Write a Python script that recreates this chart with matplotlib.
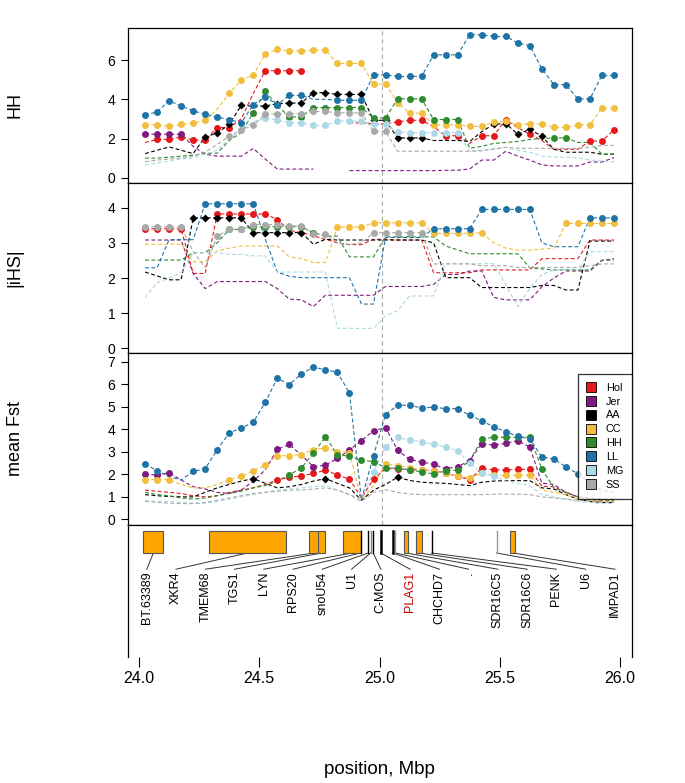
import numpy as np
import matplotlib
matplotlib.use("Agg")
import matplotlib.pyplot as plt
from matplotlib.lines import Line2D
from matplotlib.patches import Rectangle

plt.rcParams['font.family'] = ['Liberation Sans', 'DejaVu Sans']

nan = np.nan
positions = [24.025, 24.075, 24.125, 24.175, 24.225, 24.275, 24.325, 24.375, 24.425, 24.475,
             24.525, 24.575, 24.625, 24.675, 24.725, 24.775, 24.825, 24.875, 24.925, 24.975,
             25.025, 25.075, 25.125, 25.175, 25.225, 25.275, 25.325, 25.375, 25.425, 25.475,
             25.525, 25.575, 25.625, 25.675, 25.725, 25.775, 25.825, 25.875, 25.925, 25.975]

breeds = ["Hol", "Jer", "AA", "CC", "HH", "LL", "MG", "SS"]
colors = {"Hol": "#E3191C", "Jer": "#7E1A80", "AA": "#000000", "CC": "#F2BE3E",
          "HH": "#2E8B30", "LL": "#1F73A6", "MG": "#ADD8E6", "SS": "#A9A9A9"}

def rng(*pairs):
    out = []
    for a, b in pairs:
        out += list(range(a, b + 1))
    return out

# ---------------- HH panel ----------------
hh = {
 "Hol": [1.8, 1.95, 1.95, 2.08, 1.92, 1.92, 2.56, 2.56, 3.0, 4.3, 5.46, 5.46, 5.46, 5.46, nan, nan, nan, 2.8, 2.8, 2.75,
         2.75, 2.85, 2.93, 2.93, 2.6, 2.14, 2.14, 1.75, 2.14, 2.14, 2.97, 2.55, 2.22, 1.9, 1.45, 1.45, 1.45, 1.87, 1.87, 2.45],
 "Jer": [2.22, 2.22, 2.22, 2.22, 1.6, 1.2, 1.1, 1.1, 1.1, 1.49, 0.95, 0.44, 0.44, 0.44, 0.44, nan, nan, 0.36, 0.36, 0.36,
         0.36, 0.36, 0.36, 0.36, 0.36, 0.38, 0.38, 0.45, 0.9, 0.9, 1.35, 1.1, 0.9, 0.65, 0.6, 0.6, 0.6, 0.8, 0.8, 1.03],
 "AA":  [1.23, 1.40, 1.57, 1.40, 1.23, 2.08, 2.28, 2.72, 3.69, 3.65, 3.66, 3.78, 3.81, 3.81, 4.34, 4.34, 4.25, 4.25, 4.25, 2.93,
         2.93, 2.03, 2.03, 2.03, 1.9, 1.9, 1.9, 1.85, 2.35, 2.73, 2.76, 2.22, 2.47, 2.12, 1.45, 1.3, 1.3, 1.3, 1.2, 1.2],
 "CC":  [2.70, 2.70, 2.62, 2.72, 2.80, 2.92, 3.5, 4.31, 4.98, 5.25, 6.30, 6.55, 6.47, 6.47, 6.52, 6.52, 5.83, 5.83, 5.83, 4.78,
         4.78, 3.82, 3.29, 3.29, 2.70, 2.70, 2.70, 2.62, 2.62, 2.84, 2.87, 2.70, 2.75, 2.75, 2.57, 2.57, 2.70, 2.70, 3.55, 3.55],
 "HH":  [1.0, 1.0, 1.05, 1.1, 1.15, 1.25, 1.25, 1.9, 2.3, 3.31, 4.41, 3.69, 3.10, 3.10, 3.58, 3.58, 3.58, 3.58, 3.58, 3.05,
         3.05, 4.03, 4.03, 4.03, 2.97, 2.97, 2.97, 1.5, 1.6, 1.75, 1.8, 1.85, 1.95, 2.0, 2.03, 2.03, 1.8, 1.8, 1.2, 1.2],
 "LL":  [3.19, 3.36, 3.92, 3.66, 3.41, 3.24, 3.10, 2.97, 2.80, 3.73, 4.12, 3.73, 4.20, 4.20, 4.0, 4.0, 3.95, 3.95, 3.95, 5.25,
         5.25, 5.17, 5.17, 5.17, 6.27, 6.27, 6.27, 7.30, 7.30, 7.21, 7.21, 6.88, 6.74, 5.57, 4.75, 4.75, 4.02, 4.02, 5.22, 5.22],
 "MG":  [0.64, 0.75, 0.85, 0.95, 1.0, 1.2, 1.4, 2.0, 2.4, 2.85, 3.04, 2.96, 2.80, 2.80, 2.67, 2.67, 2.89, 2.89, 2.89, 2.72,
         2.72, 2.33, 2.30, 2.30, 2.30, 2.30, 2.30, 1.35, 1.35, 1.5, 1.55, 1.4, 1.3, 1.1, 1.05, 1.05, 1.0, 0.9, 0.85, 0.81],
 "SS":  [0.81, 0.9, 0.95, 1.0, 1.1, 1.3, 1.7, 2.11, 2.45, 2.67, 3.26, 3.26, 3.26, 3.26, 3.38, 3.38, 3.31, 3.31, 3.31, 2.36,
         2.36, 1.35, 1.35, 1.35, 1.35, 1.35, 1.35, 1.35, 1.4, 1.45, 1.55, 1.5, 1.5, 1.5, 1.5, 1.5, 1.5, 1.55, 1.65, 1.65],
}
hh_sig = {
 "Hol": rng((1, 7), (10, 13), (21, 23), (25, 26), (28, 30), (32, 32), (37, 39)),
 "Jer": rng((0, 3)),
 "AA":  rng((5, 8), (10, 23), (29, 33)),
 "CC":  rng((0, 5), (7, 39)),
 "HH":  rng((9, 26), (34, 35)),
 "LL":  rng((0, 13), (16, 39)),
 "MG":  rng((10, 26)),
 "SS":  rng((7, 20)),
}

# ---------------- |iHS| panel ----------------
ihs = {
 "Hol": [3.40, 3.40, 3.40, 3.40, 2.13, 2.13, 3.82, 3.82, 3.82, 3.82, 3.82, 3.66, 3.35, 3.3, 3.2, 3.1, 3.0, 2.95, 2.95, 3.1,
         3.1, 3.08, 3.08, 3.08, 2.15, 2.15, 2.15, 2.15, 2.23, 2.23, 2.23, 2.23, 2.23, 2.55, 2.55, 2.55, 2.55, 3.08, 3.08, 3.08],
 "Jer": [3.08, 3.08, 3.08, 3.08, 2.13, 1.70, 1.90, 1.90, 1.90, 1.90, 1.90, 1.70, 1.40, 1.38, 1.19, 1.51, 1.51, 1.51, 1.51, 1.51,
         1.76, 1.76, 1.76, 1.76, 1.82, 2.1, 2.1, 2.2, 2.2, 1.45, 1.38, 1.38, 1.38, 1.75, 2.0, 2.2, 2.2, 2.2, 2.5, 2.55],
 "AA":  [2.17, 2.06, 1.95, 1.95, 3.71, 3.71, 3.71, 3.71, 3.71, 3.29, 3.29, 3.29, 3.29, 3.29, 2.96, 3.1, 3.08, 3.08, 3.08, 3.08,
         3.08, 3.08, 3.08, 3.08, 3.0, 2.01, 2.01, 2.01, 1.73, 1.73, 1.73, 1.73, 1.73, 1.79, 1.79, 1.66, 1.66, 3.05, 3.05, 3.05],
 "CC":  [2.96, 2.96, 2.96, 2.96, 2.46, 2.46, 2.77, 2.85, 2.91, 2.91, 2.91, 2.91, 2.6, 2.55, 2.44, 2.44, 3.45, 3.45, 3.45, 3.57,
         3.57, 3.57, 3.57, 3.57, 3.27, 3.27, 3.27, 3.27, 3.29, 3.0, 2.85, 2.79, 2.79, 2.82, 2.85, 3.55, 3.55, 3.55, 3.55, 3.55],
 "HH":  [2.51, 2.51, 2.51, 2.51, 2.72, 2.72, 3.0, 3.38, 3.38, 3.46, 3.46, 3.46, 3.46, 3.46, 3.29, 3.19, 3.19, 2.6, 2.6, 2.6,
         3.17, 3.17, 3.17, 3.17, 3.17, 2.91, 2.8, 2.69, 2.69, 2.69, 2.69, 2.69, 2.29, 2.26, 2.23, 2.23, 2.23, 2.23, 2.51, 2.51],
 "LL":  [2.29, 2.29, 3.09, 3.09, 3.09, 4.11, 4.11, 4.11, 4.11, 4.11, 3.1, 2.17, 2.05, 2.01, 2.01, 2.01, 2.01, 2.01, 1.26, 1.26,
         3.15, 3.15, 3.15, 3.15, 3.40, 3.40, 3.40, 3.40, 3.95, 3.95, 3.95, 3.95, 3.95, 3.0, 2.89, 2.89, 2.89, 3.71, 3.71, 3.71],
 "MG":  [1.44, 1.87, 2.0, 2.15, 2.72, 2.72, 2.72, 2.67, 2.67, 2.63, 2.63, 2.17, 2.17, 2.17, 2.17, 2.17, 0.57, 0.57, 0.57, 0.57,
         0.93, 1.07, 1.49, 1.49, 1.49, 2.41, 2.41, 2.41, 2.41, 2.41, 1.8, 1.19, 1.7, 2.1, 2.23, 2.23, 2.23, 2.75, 2.75, 2.75],
 "SS":  [3.46, 3.46, 3.46, 3.46, 2.75, 2.3, 3.19, 3.38, 3.38, 3.52, 3.52, 3.52, 3.48, 3.48, 3.24, 3.24, 3.0, 2.95, 3.0, 3.29,
         3.29, 3.29, 3.29, 3.29, 2.4, 2.4, 2.4, 2.4, 2.35, 2.35, 2.35, 2.3, 2.3, 2.3, 2.3, 2.3, 2.3, 2.35, 2.4, 2.4],
}
ihs_sig = {
 "Hol": rng((0, 3), (6, 11)),
 "Jer": [],
 "AA":  rng((4, 13)),
 "CC":  rng((16, 28), (35, 39)),
 "HH":  rng((7, 14)),
 "LL":  rng((5, 9), (24, 32), (37, 39)),
 "MG":  [],
 "SS":  rng((0, 3), (6, 15), (19, 23)),
}

# ---------------- mean Fst panel ----------------
fst = {
 "Hol": [1.3, 1.25, 1.2, 1.15, 1.05, 1.0, 1.05, 1.2, 1.3, 1.4, 1.55, 1.75, 1.87, 1.93, 2.04, 2.19, 1.97, 1.79, 0.95, 1.79,
         2.25, 2.25, 2.2, 2.2, 2.15, 2.06, 1.91, 1.76, 2.26, 2.21, 2.19, 2.22, 2.22, 1.47, 1.45, 1.2, 1.0, 0.9, 0.8, 0.8],
 "Jer": [2.01, 1.97, 2.07, 1.75, 1.45, 1.35, 1.2, 1.15, 1.3, 1.7, 2.2, 3.11, 3.33, 2.85, 2.34, 2.41, 2.71, 3.08, 3.50, 3.94,
         4.07, 3.08, 2.66, 2.56, 2.44, 2.25, 2.34, 2.61, 3.37, 3.30, 3.38, 3.50, 3.21, 1.61, 1.55, 1.2, 1.0, 0.95, 0.9, 0.9],
 "AA":  [1.1, 1.05, 1.02, 1.0, 1.0, 1.2, 1.4, 1.55, 1.7, 1.81, 1.6, 1.4, 1.45, 1.55, 1.7, 1.81, 1.6, 1.4, 0.85, 1.3,
         1.55, 1.87, 1.73, 1.65, 1.62, 1.6, 1.55, 1.5, 1.65, 1.7, 1.72, 1.72, 1.72, 1.4, 1.35, 1.1, 0.9, 0.8, 0.75, 0.75],
 "CC":  [1.77, 1.77, 1.77, 1.55, 1.4, 1.4, 1.55, 1.77, 1.92, 2.16, 2.42, 2.83, 2.83, 2.88, 3.10, 3.18, 3.0, 2.97, 0.87, 1.5,
         2.47, 2.38, 2.3, 2.2, 2.15, 2.05, 1.92, 1.85, 2.05, 1.95, 1.95, 1.95, 1.97, 1.3, 1.2, 1.1, 0.9, 0.85, 0.8, 0.8],
 "HH":  [1.2, 1.1, 1.05, 0.95, 0.9, 0.95, 1.05, 1.15, 1.25, 1.4, 1.5, 1.7, 1.98, 2.28, 2.95, 3.66, 2.88, 2.8, 2.62, 2.57,
         2.29, 2.27, 2.21, 2.1, 2.02, 2.15, 2.19, 2.6, 3.55, 3.66, 3.64, 3.64, 3.66, 2.24, 1.4, 1.2, 1.0, 0.9, 0.85, 0.85],
 "LL":  [2.46, 2.16, 1.9, 1.75, 2.13, 2.25, 3.10, 3.84, 4.06, 4.31, 5.2, 6.27, 5.99, 6.46, 6.76, 6.65, 6.53, 5.61, 0.87, 2.83,
         4.65, 5.07, 5.07, 4.95, 4.98, 4.92, 4.92, 4.62, 4.39, 4.10, 3.90, 3.69, 3.57, 2.77, 2.68, 2.33, 2.03, 1.6, 1.3, 1.2],
 "MG":  [0.85, 0.8, 0.8, 0.75, 0.72, 0.72, 0.8, 0.9, 1.0, 1.1, 1.2, 1.3, 1.35, 1.4, 1.45, 1.5, 1.3, 1.1, 0.9, 2.12,
         3.23, 3.64, 3.53, 3.45, 3.33, 3.23, 3.05, 2.49, 2.07, 1.93, 1.7, 1.6, 1.5, 1.1, 1.0, 0.9, 0.8, 0.75, 0.7, 0.7],
 "SS":  [0.8, 0.75, 0.72, 0.7, 0.7, 0.75, 0.85, 0.95, 1.05, 1.15, 1.2, 1.25, 1.3, 1.3, 1.35, 1.4, 1.3, 1.1, 0.8, 1.2,
         1.32, 1.2, 1.12, 1.1, 1.1, 1.1, 1.1, 1.1, 1.1, 1.12, 1.12, 1.12, 1.1, 1.0, 0.95, 0.9, 0.85, 0.8, 0.75, 0.75],
}
fst_sig = {
 "Hol": rng((11, 17), (19, 19), (21, 32)),
 "Jer": rng((0, 2), (11, 12), (14, 32)),
 "AA":  [9, 15, 21],
 "CC":  rng((0, 2), (7, 17), (20, 32)),
 "HH":  rng((12, 26), (28, 33)),
 "LL":  rng((0, 1), (4, 17), (19, 36)),
 "MG":  rng((19, 29)),
 "SS":  [],
}

# ---------------- genes ----------------
gene_names = ["BT.63389", "XKR4", "TMEM68", "TGS1", "LYN", "RPS20", "snoU54", "U1", "C-MOS",
              "PLAG1", "CHCHD7", ".", "SDR16C5", "SDR16C6", "PENK", "U6", "IMPAD1"]
gene_start = [24.018, 24.292, 24.708, 24.746, 24.847, 24.921, 24.953, 24.963, 24.974,
              25.005, 25.055, 25.066, 25.102, 25.152, 25.217, 25.487, 25.544]
gene_end   = [24.101, 24.610, 24.748, 24.773, 24.922, 24.921, 24.953, 24.963, 24.974,
              25.005, 25.055, 25.066, 25.118, 25.178, 25.217, 25.487, 25.565]
gene_kind  = ["box", "box", "box", "box", "box", "line", "line", "line", "line",
              "line", "line", "line", "box", "box", "line", "line", "box"]
gene_line_color = ["k", "k", "k", "k", "k", "k", "k", "#888888", "k",
                   "k", "k", "#999999", "k", "k", "k", "#999999", "k"]
gene_label_color = ["k"] * 9 + ["#C00000"] + ["k"] * 7

# ---------------- figure ----------------
W_PX, H_PX = 685, 783
fig = plt.figure(figsize=(W_PX / 100, H_PX / 100), dpi=100)
L = 128 / W_PX
AW = (632 - 128) / W_PX

def add(top, bot):
    return fig.add_axes([L, 1 - bot / H_PX, AW, (bot - top) / H_PX])

ax1 = add(28, 183)
ax2 = add(183, 353)
ax3 = add(353, 525)
ax4 = add(525, 657)

xlim = (23.954, 26.050)
xs = np.array(positions)

def draw(ax, data, sig, ylim, yticks):
    for b in breeds:
        y = np.array(data[b], float)
        ax.plot(xs, y, ls=(0, (3.5, 2.2)), lw=0.8, color=colors[b], zorder=2)
        idx = sig[b]
        if idx:
            if b == "AA":
                ax.plot(xs[idx], y[idx], 'D', ms=4.2, color=colors[b], mec='none', zorder=3)
            else:
                ax.plot(xs[idx], y[idx], 'o', ms=5, color=colors[b], mec='none', zorder=3)
    ax.axvline(25.009, color="#AAAAAA", ls=(0, (4, 3)), lw=0.8, zorder=1)
    ax.set_xlim(*xlim)
    ax.set_ylim(*ylim)
    ax.set_yticks(yticks)
    ax.set_yticklabels([str(t) for t in yticks], fontsize=10)
    ax.tick_params(axis='y', direction='out', length=5, width=0.8, pad=4)
    ax.set_xticks([])
    for s in ax.spines.values():
        s.set_linewidth(0.9)

draw(ax1, hh, hh_sig, (-0.27, 7.64), [0, 2, 4, 6])
draw(ax2, ihs, ihs_sig, (-0.13, 4.70), [0, 1, 2, 3, 4])
draw(ax3, fst, fst_sig, (-0.25, 7.39), [0, 1, 2, 3, 4, 5, 6, 7])

# legend
handles = [Line2D([0], [0], marker='s', ls='none', ms=7, mfc=colors[b], mec='k', mew=0.6) for b in breeds]
leg = ax3.legend(handles, breeds, loc='upper right', bbox_to_anchor=(1.0, 0.878),
                 borderaxespad=0, fontsize=7.8, frameon=True, fancybox=False,
                 handlelength=0.9, handletextpad=0.9, labelspacing=0.36, borderpad=0.8)
leg.get_frame().set_edgecolor('k')
leg.get_frame().set_linewidth(0.9)
leg.set_zorder(10)

# gene panel
ax4.set_xlim(*xlim)
ax4.set_ylim(0, 1)
box_top, box_bot = 0.955, 0.788
conn_end, lab_top = 0.665, 0.645
label_x = np.linspace(24.032, 25.979, len(gene_names))
for k, name in enumerate(gene_names):
    s, e = gene_start[k], gene_end[k]
    if gene_kind[k] == "box":
        ax4.add_patch(Rectangle((s, box_bot), e - s, box_top - box_bot, facecolor="#FFA500",
                                edgecolor="#555555", lw=0.8, zorder=3))
    else:
        lw = 1.8 if name in ("PLAG1", "CHCHD7") else 1.0
        ax4.plot([s, s], [box_bot, box_top], color=gene_line_color[k], lw=lw, zorder=3)
    mid = (s + e) / 2
    ax4.plot([mid, label_x[k]], [box_bot, conn_end], color="#333333", lw=0.7, zorder=2)
    ax4.text(label_x[k], lab_top, name, rotation=90, ha='center', va='top',
             fontsize=9, color=gene_label_color[k])
ax4.set_yticks([])
ax4.spines['bottom'].set_visible(False)
for s in ax4.spines.values():
    s.set_linewidth(0.9)
ax4.set_xticks([24.0, 24.5, 25.0, 25.5, 26.0])
ax4.set_xticklabels(["24.0", "24.5", "25.0", "25.5", "26.0"], fontsize=11.5)
ax4.tick_params(axis='x', direction='out', length=7, width=0.8, pad=3)

# axis titles
fig.text(15 / W_PX, 1 - 105 / H_PX, "HH", rotation=90, ha='center', va='center', fontsize=13)
fig.text(15 / W_PX, 1 - 268 / H_PX, "|iHS|", rotation=90, ha='center', va='center', fontsize=13)
fig.text(15 / W_PX, 1 - 439 / H_PX, "mean Fst", rotation=90, ha='center', va='center', fontsize=13)
fig.text(379 / W_PX, 1 - 770 / H_PX, "position, Mbp", ha='center', va='center', fontsize=13.5)

fig.savefig("out.png", dpi=100)
